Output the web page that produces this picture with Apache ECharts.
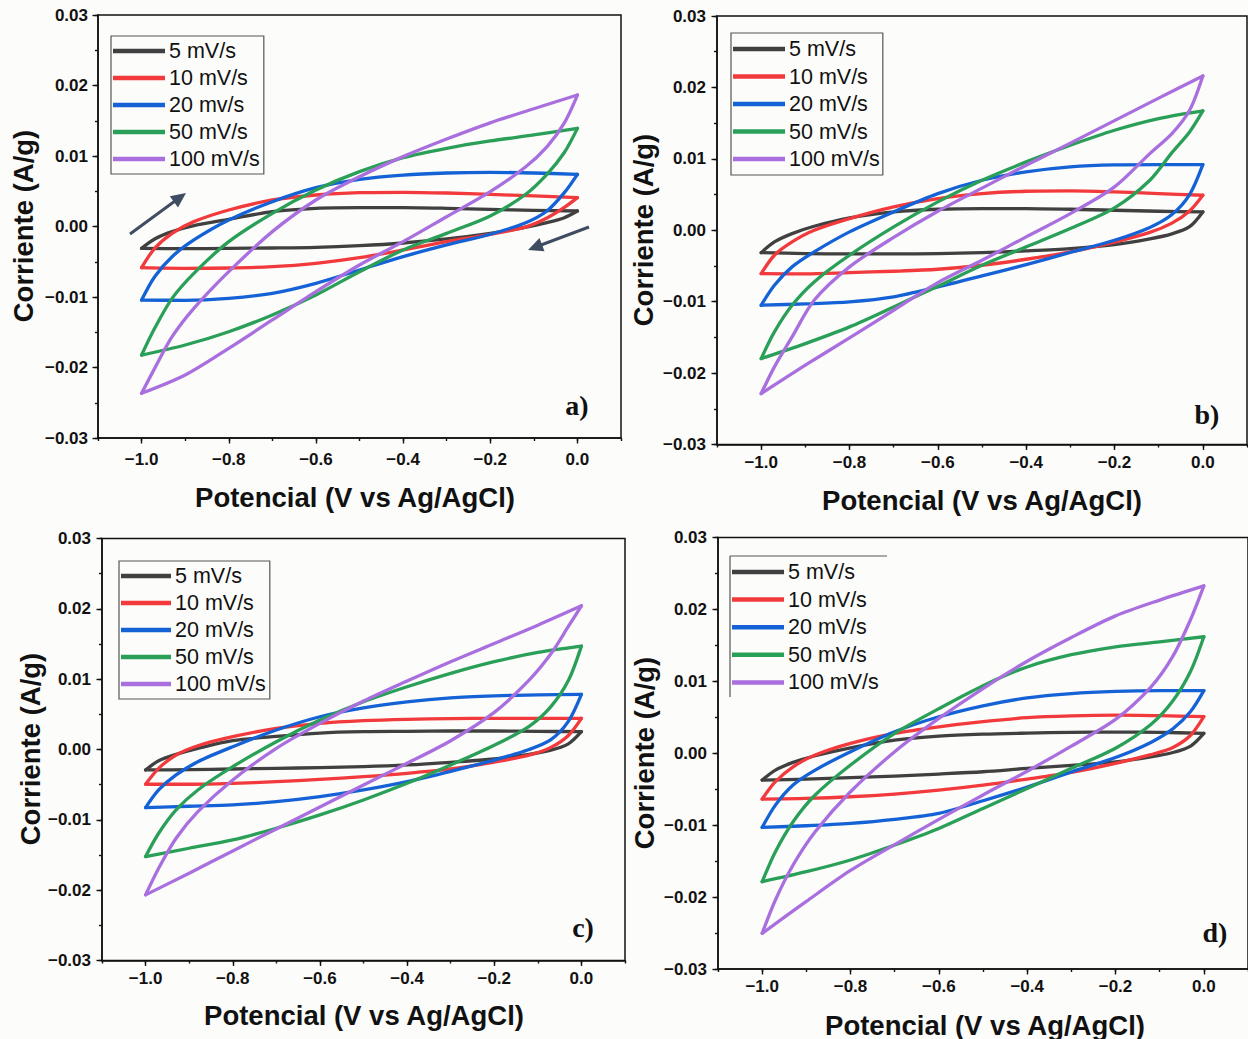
<!DOCTYPE html>
<html>
<head>
<meta charset="utf-8">
<script src="https://cdn.jsdelivr.net/npm/echarts@6/dist/echarts.min.js"></script>
<style>
html,body{margin:0;padding:0;background:#fcfcfa;}
#chart{width:1248px;height:1039px;}
</style>
</head>
<body>
<div id="chart"></div>
<script>
// ---------- data (potential in V vs Ag/AgCl, current in A/g) ----------
const xUp = [-1, -0.97, -0.93, -0.88, -0.8, -0.7, -0.6, -0.5, -0.4, -0.3, -0.2, -0.1, 0];
const xDown = [-1, -0.9, -0.8, -0.7, -0.6, -0.5, -0.4, -0.3, -0.2, -0.12, -0.07, -0.03, 0];
const xTickLabels = [-1.0, -0.8, -0.6, -0.4, -0.2, 0.0];
const yTickLabels = [-0.03, -0.02, -0.01, 0.00, 0.01, 0.02, 0.03];
const namesA = ['5 mV/s', '10 mV/s', '20 mv/s', '50 mV/s', '100 mV/s'];
const namesB = ['5 mV/s', '10 mV/s', '20 mV/s', '50 mV/s', '100 mV/s'];
const panelLetters = ['a)', 'b)', 'c)', 'd)'];

// panel a
const aUp5 = [-0.00310, -0.00177, -0.00073, 0.00012, 0.00102, 0.00210, 0.00258, 0.00267, 0.00267, 0.00258, 0.00243, 0.00229, 0.00220];
const aDn5 = [-0.00310, -0.00314, -0.00310, -0.00305, -0.00296, -0.00272, -0.00234, -0.00177, -0.00097, -0.00012, 0.00055, 0.00125, 0.00220];
const aUp10 = [-0.00584, -0.00310, -0.00097, 0.00069, 0.00234, 0.00376, 0.00447, 0.00480, 0.00485, 0.00475, 0.00456, 0.00433, 0.00409];
const aDn10 = [-0.00584, -0.00593, -0.00589, -0.00570, -0.00522, -0.00442, -0.00333, -0.00215, -0.00111, -0.00010, 0.00120, 0.00270, 0.00409];
const aUp20 = [-0.01043, -0.00712, -0.00428, -0.00191, 0.00092, 0.00352, 0.00551, 0.00669, 0.00730, 0.00759, 0.00768, 0.00759, 0.00740];
const aDn20 = [-0.01043, -0.01047, -0.01019, -0.00948, -0.00806, -0.00617, -0.00428, -0.00262, -0.00110, 0.00050, 0.00220, 0.00480, 0.00740];
const aUp50 = [-0.01823, -0.01444, -0.01019, -0.00664, -0.00215, 0.00187, 0.00518, 0.00778, 0.00976, 0.01109, 0.01213, 0.01298, 0.01392];
const aDn50 = [-0.01823, -0.01681, -0.01492, -0.01255, -0.00971, -0.00641, -0.00333, -0.00097, 0.00150, 0.00450, 0.00740, 0.01050, 0.01392];
const aUp100 = [-0.02366, -0.02012, -0.01563, -0.01161, -0.00641, -0.00073, 0.00376, 0.00707, 0.00991, 0.01240, 0.01470, 0.01670, 0.01865];
const aDn100 = [-0.02366, -0.02106, -0.01728, -0.01326, -0.00924, -0.00546, -0.00215, 0.00139, 0.00494, 0.00840, 0.01130, 0.01470, 0.01865];

// panel b
const bUp5 = [-0.00313, -0.00163, -0.00047, 0.00056, 0.00173, 0.00257, 0.00294, 0.00303, 0.00303, 0.00294, 0.00280, 0.00266, 0.00257];
const bDn5 = [-0.00313, -0.00327, -0.00331, -0.00331, -0.00327, -0.00313, -0.00289, -0.00257, -0.00201, -0.00120, -0.00050, 0.00050, 0.00257];
const bUp10 = [-0.00607, -0.00350, -0.00163, 0.00000, 0.00163, 0.00327, 0.00443, 0.00513, 0.00546, 0.00551, 0.00537, 0.00513, 0.00490];
const bDn10 = [-0.00607, -0.00611, -0.00593, -0.00574, -0.00546, -0.00490, -0.00406, -0.00303, -0.00165, -0.00030, 0.00100, 0.00270, 0.00490];
const bUp20 = [-0.01050, -0.00770, -0.00513, -0.00303, -0.00023, 0.00257, 0.00513, 0.00700, 0.00817, 0.00887, 0.00915, 0.00919, 0.00919];
const bDn20 = [-0.01050, -0.01031, -0.01003, -0.00933, -0.00793, -0.00639, -0.00481, -0.00310, -0.00140, 0.00040, 0.00220, 0.00500, 0.00919];
const bUp50 = [-0.01797, -0.01423, -0.01050, -0.00723, -0.00350, 0.00047, 0.00397, 0.00700, 0.00957, 0.01190, 0.01400, 0.01563, 0.01671];
const bDn50 = [-0.01797, -0.01587, -0.01353, -0.01073, -0.00784, -0.00490, -0.00233, 0.00023, 0.00313, 0.00700, 0.01087, 0.01377, 0.01671];
const bUp100 = [-0.02287, -0.01913, -0.01493, -0.00980, -0.00513, -0.00100, 0.00266, 0.00590, 0.00910, 0.01220, 0.01535, 0.01850, 0.02161];
const bDn100 = [-0.02287, -0.01890, -0.01507, -0.01120, -0.00733, -0.00420, -0.00093, 0.00233, 0.00607, 0.01073, 0.01353, 0.01680, 0.02161];

// panel c
const cUp5 = [-0.00291, -0.00159, -0.00069, 0.00017, 0.00126, 0.00187, 0.00234, 0.00253, 0.00258, 0.00263, 0.00263, 0.00258, 0.00253];
const cDn5 = [-0.00291, -0.00286, -0.00277, -0.00267, -0.00258, -0.00244, -0.00220, -0.00182, -0.00135, -0.00070, -0.00010, 0.00080, 0.00253];
const cUp10 = [-0.00494, -0.00268, -0.00078, 0.00054, 0.00182, 0.00301, 0.00372, 0.00410, 0.00429, 0.00438, 0.00443, 0.00443, 0.00443];
const cDn10 = [-0.00494, -0.00494, -0.00481, -0.00457, -0.00424, -0.00386, -0.00339, -0.00277, -0.00180, -0.00080, 0.00030, 0.00200, 0.00443];
const cUp20 = [-0.00826, -0.00575, -0.00362, -0.00173, 0.00040, 0.00277, 0.00466, 0.00592, 0.00677, 0.00734, 0.00762, 0.00777, 0.00784];
const cDn20 = [-0.00826, -0.00807, -0.00788, -0.00741, -0.00670, -0.00575, -0.00457, -0.00310, -0.00150, 0.00000, 0.00140, 0.00400, 0.00784];
const cUp50 = [-0.01522, -0.01191, -0.00859, -0.00575, -0.00244, 0.00111, 0.00419, 0.00679, 0.00892, 0.01082, 0.01248, 0.01380, 0.01470];
const cDn50 = [-0.01522, -0.01404, -0.01286, -0.01120, -0.00930, -0.00717, -0.00481, -0.00220, 0.00060, 0.00330, 0.00610, 0.00980, 0.01470];
const cUp100 = [-0.02067, -0.01688, -0.01262, -0.00883, -0.00433, 0.00017, 0.00372, 0.00689, 0.00973, 0.01248, 0.01508, 0.01768, 0.02043];
const cDn100 = [-0.02067, -0.01759, -0.01442, -0.01129, -0.00817, -0.00504, -0.00196, 0.00125, 0.00528, 0.00987, 0.01361, 0.01749, 0.02043];

// panel d
const dUp5 = [-0.00373, -0.00234, -0.00127, -0.00035, 0.00076, 0.00183, 0.00239, 0.00266, 0.00280, 0.00290, 0.00295, 0.00290, 0.00277];
const dDn5 = [-0.00373, -0.00359, -0.00340, -0.00317, -0.00289, -0.00257, -0.00211, -0.00170, -0.00120, -0.00050, 0.00010, 0.00100, 0.00277];
const dUp10 = [-0.00637, -0.00396, -0.00188, -0.00025, 0.00137, 0.00276, 0.00368, 0.00440, 0.00495, 0.00520, 0.00530, 0.00522, 0.00510];
const dDn10 = [-0.00637, -0.00628, -0.00605, -0.00567, -0.00513, -0.00443, -0.00359, -0.00266, -0.00140, -0.00020, 0.00080, 0.00250, 0.00510];
const dUp20 = [-0.01031, -0.00721, -0.00442, -0.00234, 0.00021, 0.00299, 0.00507, 0.00660, 0.00770, 0.00830, 0.00860, 0.00870, 0.00870];
const dDn20 = [-0.01031, -0.01008, -0.00975, -0.00919, -0.00836, -0.00660, -0.00470, -0.00260, -0.00060, 0.00150, 0.00340, 0.00580, 0.00870];
const dUp50 = [-0.01786, -0.01369, -0.00952, -0.00581, -0.00164, 0.00276, 0.00620, 0.00940, 0.01200, 0.01370, 0.01480, 0.01550, 0.01620];
const dDn50 = [-0.01786, -0.01647, -0.01484, -0.01276, -0.01045, -0.00767, -0.00489, -0.00210, 0.00070, 0.00400, 0.00730, 0.01140, 0.01620];
const dUp100 = [-0.02504, -0.02040, -0.01554, -0.01091, -0.00535, 0.00021, 0.00484, 0.00900, 0.01280, 0.01610, 0.01910, 0.02130, 0.02327];
const dDn100 = [-0.02504, -0.02060, -0.01630, -0.01270, -0.00920, -0.00580, -0.00250, 0.00100, 0.00470, 0.00920, 0.01350, 0.01860, 0.02327];

// ---------- layout / style ----------
const colors = ['#404040', '#f2393b', '#1462d6', '#2a9f58', '#a96fdf'];
const SANS = '"Liberation Sans", Arial, sans-serif';
const SERIF = '"Liberation Serif", "Times New Roman", serif';
const INK = '#111';

const panels = [
  { names: namesA, up: [aUp5, aUp10, aUp20, aUp50, aUp100], dn: [aDn5, aDn10, aDn20, aDn50, aDn100],
    grid: { left: 98, top: 15, width: 523, height: 423 }, xMargin: 13, yMargin: 10,
    legend: { left: 111, top: 36, itemWidth: 52, gap: 5, padding: [4, 4, 4, 2], border: true },
    xTitle: [355, 497], yTitle: [23, 226], letter: [577, 405] },
  { names: namesB, up: [bUp5, bUp10, bUp20, bUp50, bUp100], dn: [bDn5, bDn10, bDn20, bDn50, bDn100],
    grid: { left: 717, top: 16, width: 530, height: 428.5 }, xMargin: 9, yMargin: 11,
    legend: { left: 731, top: 33, itemWidth: 52, gap: 5.5, padding: [5, 3, 5, 2], border: true },
    xTitle: [982, 500], yTitle: [643, 230], letter: [1207, 414] },
  { names: namesB, up: [cUp5, cUp10, cUp20, cUp50, cUp100], dn: [cDn5, cDn10, cDn20, cDn50, cDn100],
    grid: { left: 102, top: 538.5, width: 523, height: 422 }, xMargin: 9, yMargin: 11,
    legend: { left: 119, top: 561, itemWidth: 50, gap: 5, padding: [4, 4, 4, 2], border: true },
    xTitle: [364, 1015], yTitle: [30, 749], letter: [583, 927] },
  { names: namesB, up: [dUp5, dUp10, dUp20, dUp50, dUp100], dn: [dDn5, dDn10, dDn20, dDn50, dDn100],
    grid: { left: 718, top: 537.5, width: 534.5, height: 431.5 }, xMargin: 9, yMargin: 11,
    legend: { left: 730, top: 556, itemWidth: 52, gap: 5.6, padding: [5, 5, 5, 2], border: false },
    xTitle: [985, 1025], yTitle: [644, 753], letter: [1215, 932] }
];

const minus = s => s.replace('-', '\u2212');
const fmtX = v => minus(Number(v).toFixed(1)).replace('\u22120.0', '0.0');
const fmtY = v => minus(Number(v).toFixed(2)).replace('\u22120.00', '0.00');

const grids = [], xAxes = [], yAxes = [], series = [], legends = [], graphics = [];
const tickStyle = { color: INK, width: 1.4 };
const labelFont = { fontFamily: SANS, fontWeight: 'bold', fontSize: 17, color: INK };

panels.forEach((p, i) => {
  grids.push(Object.assign({ show: true, borderColor: INK, borderWidth: 1.5, backgroundColor: 'transparent' }, p.grid));
  // main x axis: line, minor ticks, labels
  xAxes.push({ type: 'value', gridIndex: i, position: 'bottom', min: -1.1, max: 0.1, interval: 0.1,
    axisLine: { show: true, onZero: false, lineStyle: { color: INK, width: 1.5 } },
    axisTick: { show: true, inside: false, length: 3, lineStyle: tickStyle },
    axisLabel: Object.assign({ customValues: xTickLabels, formatter: fmtX, margin: p.xMargin }, labelFont),
    splitLine: { show: false } });
  // overlay x axis: major ticks
  xAxes.push({ type: 'value', gridIndex: i, position: 'bottom', min: -1.1, max: 0.1, interval: 0.1,
    axisLine: { show: false, onZero: false },
    axisTick: { show: true, inside: false, length: 5.5, customValues: xTickLabels, lineStyle: tickStyle },
    axisLabel: { show: false }, splitLine: { show: false } });
  yAxes.push({ type: 'value', gridIndex: i, position: 'left', min: -0.03, max: 0.03, interval: 0.005,
    axisLine: { show: true, onZero: false, lineStyle: { color: INK, width: 1.5 } },
    axisTick: { show: true, inside: false, length: 3, lineStyle: tickStyle },
    axisLabel: Object.assign({ customValues: yTickLabels, formatter: fmtY, margin: p.yMargin }, labelFont),
    splitLine: { show: false } });
  yAxes.push({ type: 'value', gridIndex: i, position: 'left', min: -0.03, max: 0.03, interval: 0.005,
    axisLine: { show: false, onZero: false },
    axisTick: { show: true, inside: false, length: 5.5, customValues: yTickLabels, lineStyle: tickStyle },
    axisLabel: { show: false }, splitLine: { show: false } });

  p.names.forEach((name, k) => {
    const common = { name: name, type: 'line', xAxisIndex: 2 * i, yAxisIndex: 2 * i,
      showSymbol: false, symbol: 'none', smooth: 0.3, color: colors[k],
      lineStyle: { color: colors[k], width: 3.3, join: 'round', cap: 'round' }, emphasis: { disabled: true }, z: 2 + k };
    series.push(Object.assign({}, common, { data: xUp.map((x, j) => [x, p.up[k][j]]) }));
    series.push(Object.assign({}, common, { data: xDown.map((x, j) => [x, p.dn[k][j]]) }));
  });

  const L = p.legend;
  legends.push({ data: p.names, orient: 'vertical', left: L.left, top: L.top,
    icon: 'rect', itemWidth: L.itemWidth, itemHeight: 4.5, itemGap: L.gap, padding: L.padding,
    borderColor: L.border ? '#555' : 'transparent', borderWidth: L.border ? 1.2 : 0,
    backgroundColor: 'transparent', selectedMode: false,
    textStyle: { fontFamily: SANS, fontSize: 21.5, color: INK, lineHeight: 22, padding: [0, 0, 0, -1] } });

  graphics.push({ type: 'text', x: p.xTitle[0], y: p.xTitle[1], z: 10,
    style: { text: 'Potencial (V vs Ag/AgCl)', font: 'bold 27.5px ' + SANS, fill: INK, align: 'center', verticalAlign: 'middle' } });
  graphics.push({ type: 'text', x: p.yTitle[0], y: p.yTitle[1], rotation: Math.PI / 2, z: 10,
    style: { text: 'Corriente (A/g)', font: 'bold 27.5px ' + SANS, fill: INK, align: 'center', verticalAlign: 'middle' } });
  graphics.push({ type: 'text', x: p.letter[0], y: p.letter[1], z: 10,
    style: { text: panelLetters[i], font: 'bold 28px ' + SERIF, fill: INK, align: 'center', verticalAlign: 'middle' } });
});

// partial legend frame of panel d
graphics.push({ type: 'line', shape: { x1: 730, y1: 556, x2: 887, y2: 556 }, style: { stroke: '#555', lineWidth: 1.2 } });
graphics.push({ type: 'line', shape: { x1: 730, y1: 556, x2: 730, y2: 697 }, style: { stroke: '#555', lineWidth: 1.2 } });

// sweep-direction arrows in panel a
const ARROW = '#3f4d63';
graphics.push({ type: 'line', shape: { x1: 130, y1: 234, x2: 175, y2: 201 }, style: { stroke: ARROW, lineWidth: 3 } });
graphics.push({ type: 'polygon', shape: { points: [[186, 193], [178, 207.5], [169.8, 196.3]] }, style: { fill: ARROW } });
graphics.push({ type: 'line', shape: { x1: 589, y1: 227, x2: 541, y2: 245 }, style: { stroke: ARROW, lineWidth: 3 } });
graphics.push({ type: 'polygon', shape: { points: [[528, 250], [544.5, 251.3], [539.5, 238.1]] }, style: { fill: ARROW } });

const chart = echarts.init(document.getElementById('chart'), null, { renderer: 'svg', width: 1248, height: 1039 });
chart.setOption({
  backgroundColor: '#fcfcfa',
  animation: false,
  grid: grids,
  xAxis: xAxes,
  yAxis: yAxes,
  legend: legends,
  series: series,
  graphic: { elements: graphics }
});
</script>
</body>
</html>
